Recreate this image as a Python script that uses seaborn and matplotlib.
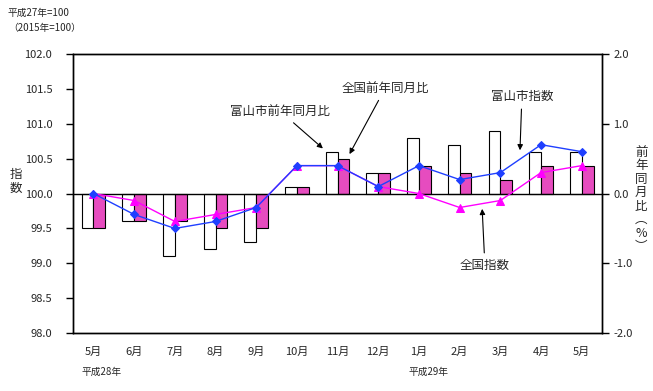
"""Toyama CPI chart: index lines and year-on-year bars."""
import matplotlib
matplotlib.use("Agg")
import matplotlib.pyplot as plt
import pandas as pd
import seaborn as sns

sns.set_theme(style="white")
plt.rcParams["font.family"] = ["Noto Sans CJK JP", "DejaVu Sans"]

months = ["5月", "6月", "7月", "8月", "9月", "10月", "11月",
          "12月", "1月", "2月", "3月", "4月", "5月"]
toyama_yoy = [-0.5, -0.4, -0.9, -0.8, -0.7, 0.1, 0.6, 0.3, 0.8, 0.7, 0.9, 0.6, 0.6]
national_yoy = [-0.5, -0.4, -0.4, -0.5, -0.5, 0.1, 0.5, 0.3, 0.4, 0.3, 0.2, 0.4, 0.4]
toyama_index = [100.0, 99.7, 99.5, 99.6, 99.8, 100.4, 100.4, 100.1, 100.4, 100.2, 100.3, 100.7, 100.6]
national_index = [100.0, 99.9, 99.6, 99.7, 99.8, 100.4, 100.4, 100.1, 100.0, 99.8, 99.9, 100.3, 100.4]

magenta_bar = "#FF33CC"
magenta_line = "#FF00FF"
blue_line = "#1F3FFF"

pos = list(range(len(months)))
bars = pd.DataFrame({
    "pos": pos * 2,
    "value": toyama_yoy + national_yoy,
    "series": ["富山市前年同月比"] * len(pos) + ["全国前年同月比"] * len(pos),
})

fig = plt.figure(figsize=(6.53, 3.91), dpi=100)
ax = fig.add_axes([0.112, 0.148, 0.81, 0.714])
ax2 = ax.twinx()

# bars on the right (%) axis
sns.barplot(
    data=bars, x="pos", y="value", hue="series", ax=ax2,
    palette=["white", magenta_bar], edgecolor="black", linewidth=0.8,
    width=0.58, legend=False, order=pos,
)
ax2.set_ylim(-2.0, 2.0)
ax2.set_yticks([-2.0, -1.0, 0.0, 1.0, 2.0])
ax2.set_yticklabels([f"{v:.1f}" for v in [-2.0, -1.0, 0.0, 1.0, 2.0]], fontsize=8)
ax2.set_ylabel("")
ax2.set_xlabel("")

# index lines on the left axis, drawn above the bars
ax.set_zorder(ax2.get_zorder() + 1)
ax.patch.set_visible(False)
sns.lineplot(x=pos, y=national_index, ax=ax, color=magenta_line, marker="^",
             markersize=6, markeredgecolor=magenta_line, lw=1)
sns.lineplot(x=pos, y=toyama_index, ax=ax, color=blue_line, marker="D",
             markersize=4, markeredgecolor=blue_line, lw=1)
ax.axhline(100.0, color="black", lw=1, zorder=0)

ax.set_xlim(-0.5, len(months) - 0.5)
ax.set_ylim(98.0, 102.0)
ax.set_yticks([98 + 0.5 * i for i in range(9)])
ax.set_yticklabels([f"{98 + 0.5 * i:.1f}" for i in range(9)], fontsize=8)
ax.set_xticks(pos)
ax.set_xticklabels(months, fontsize=8)
ax2.set_xlim(-0.5, len(months) - 0.5)

for a in (ax, ax2):
    for s in a.spines.values():
        s.set_color("black")
        s.set_linewidth(1)
ax.tick_params(axis="y", direction="out", length=5, width=1, color="black", left=True, pad=10)
ax.tick_params(axis="x", length=0, pad=10)
ax2.tick_params(axis="y", direction="out", length=5, width=1, color="black", right=True, pad=3)

# annotations
arrow = dict(arrowstyle="-|>", color="black", lw=0.8, mutation_scale=8)
ax.annotate("富山市前年同月比", xy=(5.69, 100.62), xytext=(4.59, 101.18),
            ha="center", va="center", fontsize=9, arrowprops=arrow)
ax.annotate("全国前年同月比", xy=(6.26, 100.53), xytext=(7.17, 101.51),
            ha="center", va="center", fontsize=9, arrowprops=arrow)
ax.annotate("富山市指数", xy=(10.48, 100.58), xytext=(10.53, 101.39),
            ha="center", va="center", fontsize=9, arrowprops=arrow)
ax.annotate("全国指数", xy=(9.55, 99.82), xytext=(9.62, 98.97),
            ha="center", va="center", fontsize=9, arrowprops=arrow)

# labels
fig.text(0.015, 0.535, "指\n数", fontsize=9, ha="left", va="center", linespacing=1.1)
fig.text(0.982, 0.49, "前\n年\n同\n月\n比\n︵\n%\n︶", fontsize=9, ha="center",
         va="center", linespacing=1.05)
fig.text(0.012, 0.968, "平成27年=100", fontsize=7, ha="left", va="center")
fig.text(0.012, 0.928, "（2015年=100）", fontsize=7, ha="left", va="center")
fig.text(0.125, 0.048, "平成28年", fontsize=7, ha="left", va="center")
fig.text(0.625, 0.048, "平成29年", fontsize=7, ha="left", va="center")

fig.savefig("out.png", dpi=100, facecolor="white")
